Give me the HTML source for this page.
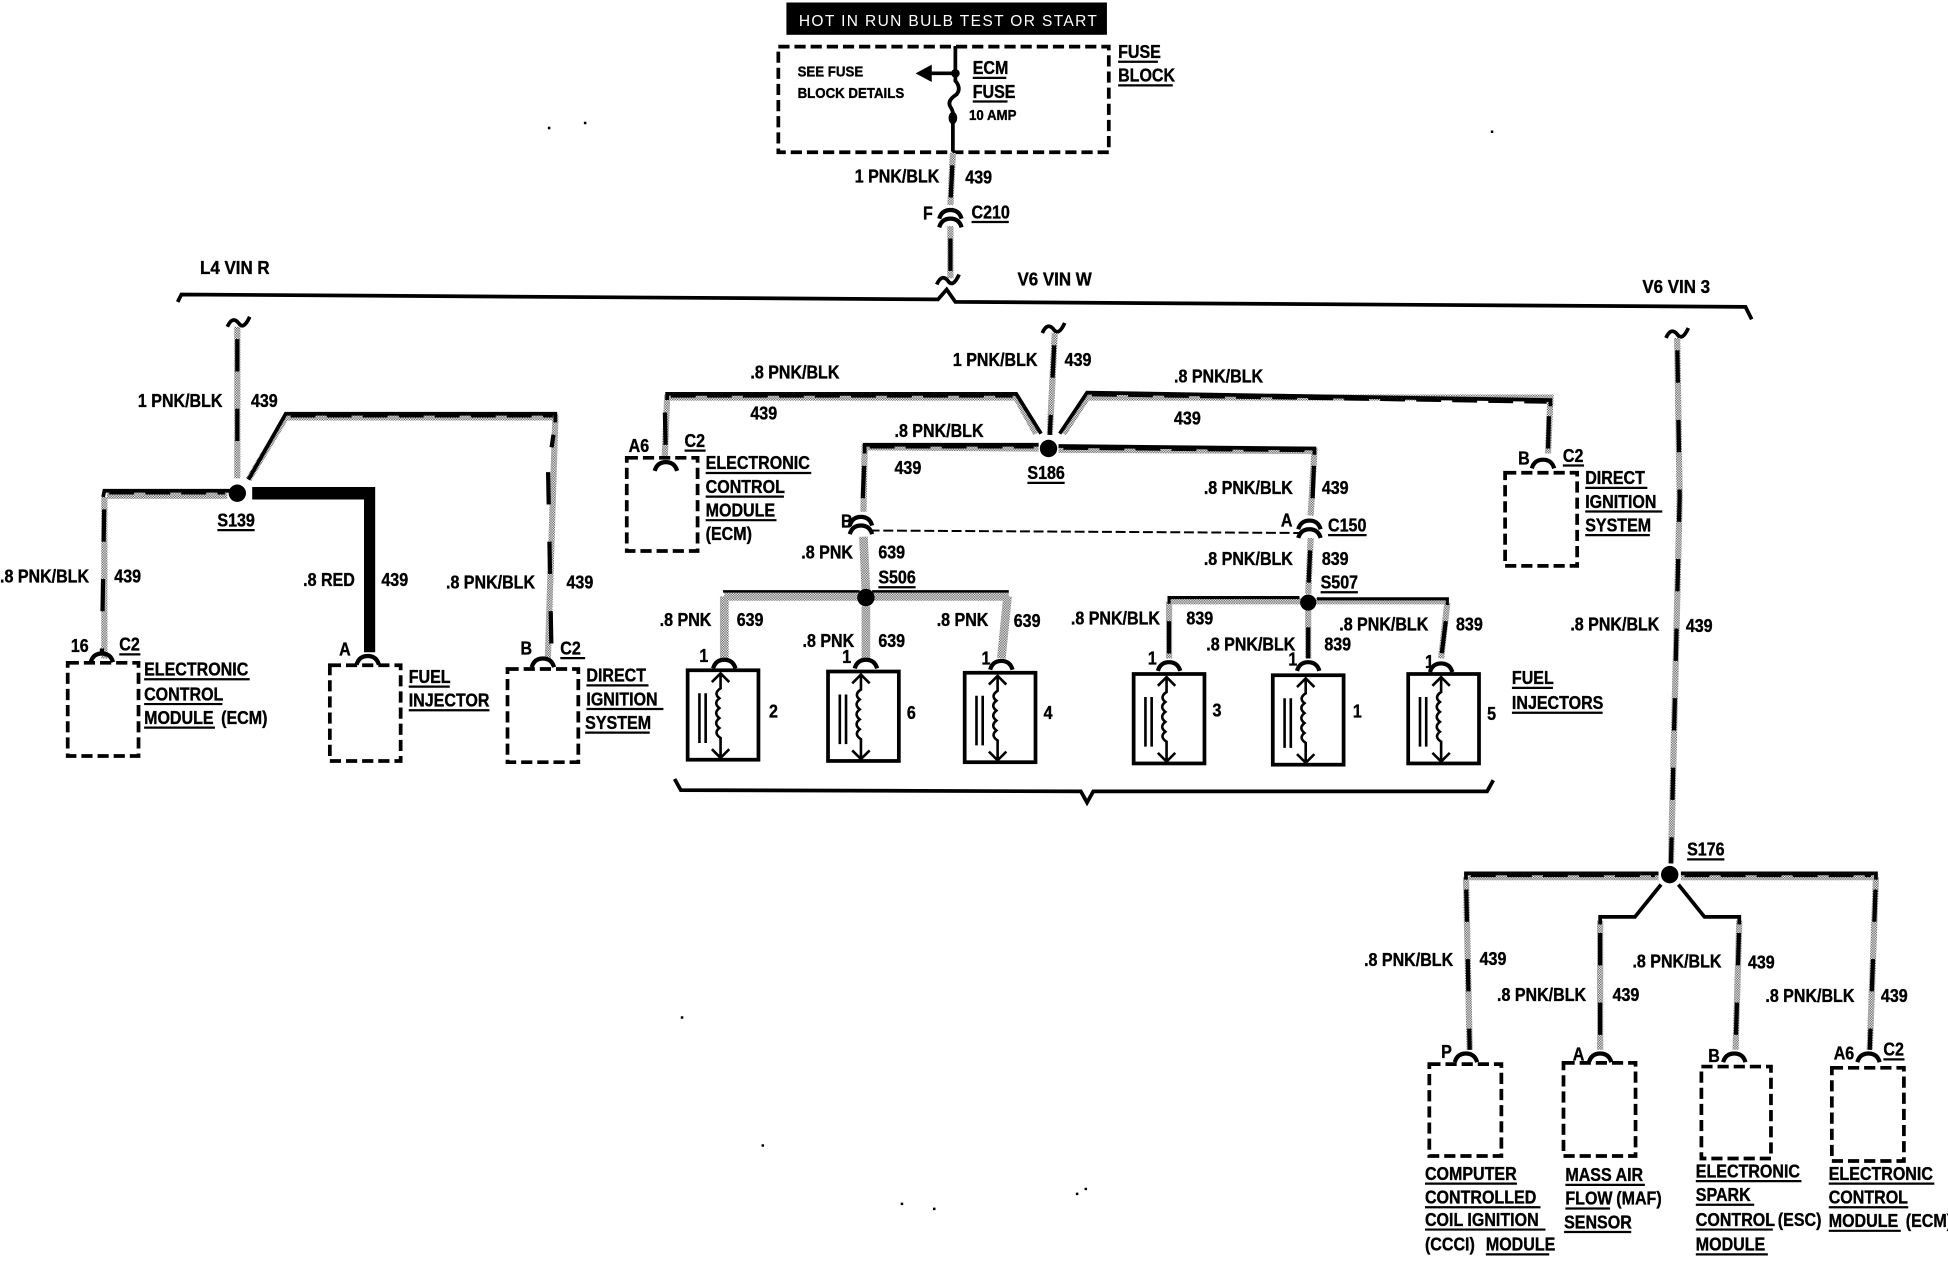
<!DOCTYPE html>
<html>
<head>
<meta charset="utf-8">
<style>
html,body{margin:0;padding:0;background:#fff}
svg{display:block}
text{font-family:"Liberation Sans",sans-serif;font-weight:bold;font-size:14.5px;fill:#000;stroke:#000;stroke-width:.3px;transform-box:fill-box;transform-origin:0 50%;transform:translateY(.7px) scaleX(.89)}
.s{font-size:12px}
.w{transform:translateY(.7px) scaleX(.94)}
.h{fill:#fff;stroke:none;font-weight:normal;font-size:12.5px;letter-spacing:1.1px;transform:translateY(0)}
.g,.k,.r,.b,.t,.u,.c,.z{fill:none}
.g{stroke:url(#d);stroke-width:5}
.k{stroke:#000;stroke-width:3.4;stroke-dasharray:26 30;stroke-dashoffset:-10}
.t{stroke:#000;stroke-width:3}
.z{stroke:#000;stroke-width:2;stroke-dasharray:20 9}
.b{stroke:#000;stroke-width:3;stroke-dasharray:9 4}
.u{stroke:#000;stroke-width:1.8}
.c{stroke:#000;stroke-width:3.4}
</style>
</head>
<body>
<svg xmlns="http://www.w3.org/2000/svg" width="1948" height="1264" viewBox="0 0 1568 1017.4">
<defs>
<pattern id="d" width="2" height="2" patternUnits="userSpaceOnUse"><rect width="2" height="2" fill="#fff"/><rect width="1" height="1" fill="#555"/><rect x="1" y="1" width="1" height="1" fill="#555"/></pattern>
<path id="a" class="c" d="M-9 4Q-7 -3 0 -3Q7 -3 9 4"/>
<path id="w" class="t" d="M-9 4Q-5 -5 0 1Q4 7 9 -4"/>
<g id="i">
<rect x="1.5" y="1.5" width="57" height="72" fill="none" stroke="#000" stroke-width="3"/>
<path fill="none" stroke="#000" stroke-width="2.1" d="M28 4V16Q22 20 27 24Q22 28 27 32Q22 36 27 40Q22 44 27 48Q22 52 28 56V72M21 11L28 4L35 11M21 65L28 72L35 65M11 20V60M16 20V60"/>
</g>
</defs>

<!-- header -->
<rect x="633" y="2" width="258" height="26" fill="#000"/>
<text class="h" x="643" y="21">HOT IN RUN  BULB TEST OR START</text>

<!-- fuse block -->
<rect class="b" x="626.5" y="37.5" width="266" height="85"/>
<path class="t" d="M769 37V59M769 59H748M769 59V65Q774 71 770 76Q762 81 765 86Q768 90 767 96V122"/>
<path d="M737 59L750 52V66Z"/>
<circle cx="769" cy="59" r="3.5"/><ellipse cx="767" cy="95" rx="3.5" ry="5"/>
<text class="s" x="642" y="61">SEE FUSE</text>
<text class="s" x="642" y="78">BLOCK DETAILS</text>
<text x="783" y="59">ECM</text>
<text x="783" y="78">FUSE</text>
<text class="s" x="780" y="96">10 AMP</text>
<text x="900" y="46">FUSE</text>
<text x="900" y="65">BLOCK</text>
<path class="g" d="M767 123L765 165M765 182L765 224"/>
<path class="k" d="M767 123L765 165M765 182L765 224"/>
<use href="#a" x="765" y="172"/><use href="#a" x="765" y="179"/>
<text x="688" y="146">1 PNK/BLK</text><text x="777" y="147">439</text>
<text x="743" y="176">F</text><text x="782" y="175">C210</text>
<use href="#w" x="763" y="225"/>

<!-- main bar -->
<path class="t" d="M143 243L146 237L755 241L762 233L769 243L1405 247L1410 257"/>
<text class="w" x="161" y="220">L4 VIN R</text>
<text class="w" x="819" y="229">V6 VIN W</text>
<text class="w" x="1322" y="235">V6 VIN 3</text>

<!-- left group wires -->
<use href="#w" x="192" y="259"/>
<path class="g" d="M191 263L191 385M84 400V530M86 399H183M200 386L230 336H447L441 530"/>
<path class="k" d="M191 263L191 385M84 400L82 526M441 370L444 530M447 340L444 360"/>
<path class="t" d="M185 395H84L83 400M200 386L230 333H447V340"/>
<path class="z" d="M234 335H445M88 397H181"/>
<path d="M203 392H302V525H293V402H203Z"/>
<circle cx="191" cy="397" r="7"/>
<use href="#a" x="82" y="529"/><use href="#a" x="296" y="531"/><use href="#a" x="437" y="533"/>
<rect class="b" x="54.5" y="533.5" width="57" height="75"/>
<rect class="b" x="265.5" y="535.5" width="57" height="77"/>
<rect class="b" x="408.5" y="538.5" width="57" height="75"/>
<text x="111" y="327">1 PNK/BLK</text><text x="202" y="327">439</text>
<text x="175" y="423">S139</text>
<text x="0" y="468">.8 PNK/BLK</text><text x="92" y="468">439</text>
<text x="244" y="471">.8 RED</text><text x="307" y="471">439</text>
<text x="359" y="473">.8 PNK/BLK</text><text x="456" y="473">439</text>
<text x="57" y="524">16</text><text x="96" y="523">C2</text>
<text x="273" y="527">A</text>
<text x="419" y="526">B</text><text x="451" y="526">C2</text>
<text x="116" y="543">ELECTRONIC</text><text x="116" y="563">CONTROL</text><text x="116" y="582">MODULE</text><text x="178" y="582">(ECM)</text>
<text x="329" y="549">FUEL</text><text x="329" y="568">INJECTOR</text>
<text x="472" y="548">DIRECT</text><text x="472" y="567">IGNITION</text><text x="471" y="586">SYSTEM</text>

<!-- center group wires -->
<use href="#w" x="848" y="264"/>
<path class="g" d="M849 268L845 350M834 349L818 320H537L535 370M856 349L875 320H1248L1246 365M836 361L696 360L695 412M852 362L1058 363L1055 415"/>
<path class="k" d="M849 268L845 350M535 322L536 370M1247 325L1246 365M696 365L694 412M1058 365L1056 415"/>
<path class="t" d="M838 349L818 317H537V322M853 349L875 316L1248 322V327M836 358L696 358V365M852 359L1058 361V366"/>
<path class="z" d="M540 319H815M879 318L1245 324M700 360H832M856 361L1055 363"/>
<circle cx="844" cy="361" r="7"/>
<use href="#a" x="536" y="375"/><use href="#a" x="1242" y="373"/>
<use href="#a" x="693" y="419"/><use href="#a" x="693" y="426"/>
<use href="#a" x="1054" y="422"/><use href="#a" x="1054" y="429"/>
<path fill="none" stroke="#000" stroke-width="1.6" stroke-dasharray="8 3" d="M700 427L1046 429"/>
<rect class="b" x="504.5" y="368.5" width="57" height="75"/>
<rect class="b" x="1211.5" y="380.5" width="58" height="75"/>
<text x="767" y="294">1 PNK/BLK</text><text x="857" y="294">439</text>
<text x="604" y="304">.8 PNK/BLK</text><text x="604" y="337">439</text>
<text x="945" y="307">.8 PNK/BLK</text><text x="945" y="341">439</text>
<text x="720" y="351">.8 PNK/BLK</text><text x="720" y="381">439</text>
<text x="827" y="385">S186</text>
<text x="506" y="363">A6</text><text x="551" y="359">C2</text>
<text x="568" y="377">ELECTRONIC</text><text x="568" y="396">CONTROL</text><text x="568" y="415">MODULE</text><text x="568" y="434">(ECM)</text>
<text x="1222" y="373">B</text><text x="1258" y="371">C2</text>
<text x="1276" y="389">DIRECT</text><text x="1276" y="408">IGNITION</text><text x="1276" y="427">SYSTEM</text>
<text x="969" y="397">.8 PNK/BLK</text><text x="1064" y="397">439</text>
<text x="677" y="424">B</text><text x="1031" y="423">A</text><text x="1069" y="427">C150</text>
<text x="645" y="449">.8 PNK</text><text x="707" y="449">639</text>
<text x="707" y="469">S506</text>
<text x="969" y="454">.8 PNK/BLK</text><text x="1064" y="454">839</text>
<text x="1063" y="473">S507</text>

<!-- injector feeds -->
<path class="g" style="stroke-width:7" d="M695 432L697 476M583 480H812M583 480V530M697 488V530M811 480L806 530"/>
<path class="t" style="stroke-width:2" d="M582 476H692M702 476H812"/>
<path class="g" d="M1055 433L1053 478M941 484H1165M941 484V530M1053 490V530M1165 485L1160 530"/>
<path class="k" d="M1055 433L1053 478M941 490V530M1053 495V530M1165 490L1160 530"/>
<path class="t" style="stroke-width:2.5" d="M941 486V481H1046M1060 482H1165V487"/>
<circle cx="697" cy="481" r="7"/><circle cx="1053" cy="485" r="6.5"/>
<use href="#a" x="583" y="534"/><use href="#a" x="697" y="534"/><use href="#a" x="806" y="535"/>
<use href="#a" x="941" y="536"/><use href="#a" x="1053" y="536"/><use href="#a" x="1160" y="537"/>
<use href="#i" x="552" y="538"/><use href="#i" x="665" y="539"/><use href="#i" x="775" y="540"/>
<use href="#i" x="911" y="541"/><use href="#i" x="1023" y="542"/><use href="#i" x="1132" y="541"/>
<text x="531" y="503">.8 PNK</text><text x="593" y="503">639</text>
<text x="646" y="520">.8 PNK</text><text x="707" y="520">639</text>
<text x="754" y="503">.8 PNK</text><text x="816" y="504">639</text>
<text x="862" y="502">.8 PNK/BLK</text><text x="955" y="502">839</text>
<text x="971" y="523">.8 PNK/BLK</text><text x="1066" y="523">839</text>
<text x="1078" y="507">.8 PNK/BLK</text><text x="1172" y="507">839</text>
<text x="563" y="532">1</text><text x="678" y="533">1</text><text x="790" y="534">1</text>
<text x="924" y="534">1</text><text x="1037" y="535">1</text><text x="1147" y="537">1</text>
<text x="619" y="577">2</text><text x="730" y="578">6</text><text x="840" y="578">4</text>
<text x="976" y="576">3</text><text x="1089" y="577">1</text><text x="1197" y="579">5</text>
<text x="1217" y="550">FUEL</text><text x="1217" y="570">INJECTORS</text>
<path class="t" d="M543 627L548 636L870 637L875 646L880 637L1197 637L1202 628"/>

<!-- right group -->
<use href="#w" x="1350" y="268"/>
<path class="g" d="M1350 272L1352 400L1345 695M1180 706L1183 845M1510 706L1505 845M1288 741V845M1400 741L1397 845M1182 706H1335M1353 706H1508"/>
<path class="k" d="M1350 272L1352 400L1345 695M1180 706L1183 845M1510 706L1505 845M1288 741V845M1400 741L1397 845"/>
<path class="t" d="M1335 703H1180V708M1353 703H1510V708M1337 712L1316 738H1288V744M1351 712L1372 738H1400V744"/>
<path class="z" d="M1184 705H1332M1356 705H1506"/>
<circle cx="1344" cy="704" r="7"/>
<use href="#a" x="1180" y="851"/><use href="#a" x="1288" y="851"/><use href="#a" x="1396" y="851"/><use href="#a" x="1504" y="851"/>
<rect class="b" x="1150.5" y="856.5" width="58" height="74"/>
<rect class="b" x="1258.5" y="855.5" width="58" height="75"/>
<rect class="b" x="1369.5" y="858.5" width="56" height="74"/>
<rect class="b" x="1474.5" y="859.5" width="58" height="75"/>
<text x="1264" y="507">.8 PNK/BLK</text><text x="1357" y="508">439</text>
<text x="1358" y="688">S176</text>
<text x="1098" y="777">.8 PNK/BLK</text><text x="1191" y="776">439</text>
<text x="1205" y="805">.8 PNK/BLK</text><text x="1298" y="805">439</text>
<text x="1314" y="778">.8 PNK/BLK</text><text x="1407" y="779">439</text>
<text x="1421" y="806">.8 PNK/BLK</text><text x="1514" y="806">439</text>
<text x="1160" y="851">P</text><text x="1266" y="853">A</text><text x="1375" y="854">B</text><text x="1476" y="852">A6</text><text x="1516" y="849">C2</text>
<text x="1147" y="949">COMPUTER</text><text x="1147" y="968">CONTROLLED</text><text x="1147" y="986">COIL IGNITION</text><text x="1147" y="1006">(CCCI)</text><text x="1196" y="1006">MODULE</text>
<text x="1260" y="950">MASS AIR</text><text x="1260" y="969">FLOW</text><text x="1301" y="969">(MAF)</text><text x="1259" y="988">SENSOR</text>
<text x="1365" y="947">ELECTRONIC</text><text x="1365" y="966">SPARK</text><text x="1365" y="986">CONTROL</text><text x="1431" y="986">(ESC)</text><text x="1365" y="1006">MODULE</text>
<text x="1472" y="949">ELECTRONIC</text><text x="1472" y="968">CONTROL</text><text x="1472" y="987">MODULE</text><text x="1534" y="987">(ECM)</text>

<!-- underlines -->
<path class="u" transform="translate(0 .7)" d="M783 62h27M783 81h28M900 49h32M900 68h44M782 178h30
M175 426h30M96 526h17M451 529h20M116 546h85M116 566h63M116 585h57M329 552h33M329 571h65M472 551h50M472 570h62M471 589h52
M827 388h30M551 362h17M568 380h85M568 399h63M568 418h57M1258 374h17M1276 392h50M1276 411h62M1276 430h52
M1069 430h31M707 472h30M1063 476h30M1217 553h33M1217 573h73M1358 691h30M1516 852h17
M1147 952h74M1147 971h93M1147 989h97M1196 1009h51M1260 953h64M1260 972h36M1259 991h54M1365 950h85M1365 969h47M1365 989h62M1365 1009h58M1472 952h85M1472 971h64M1472 990h58"/>

<!-- specks -->
<path fill="#000" d="M441 102h2v2h-2zM470 98h2v2h-2zM548 818h2v2h-2zM613 921h2v2h-2zM725 968h2v2h-2zM751 972h2v2h-2zM866 960h2v2h-2zM873 956h2v2h-2zM1200 105h2v2h-2z"/>
</svg>
</body>
</html>
